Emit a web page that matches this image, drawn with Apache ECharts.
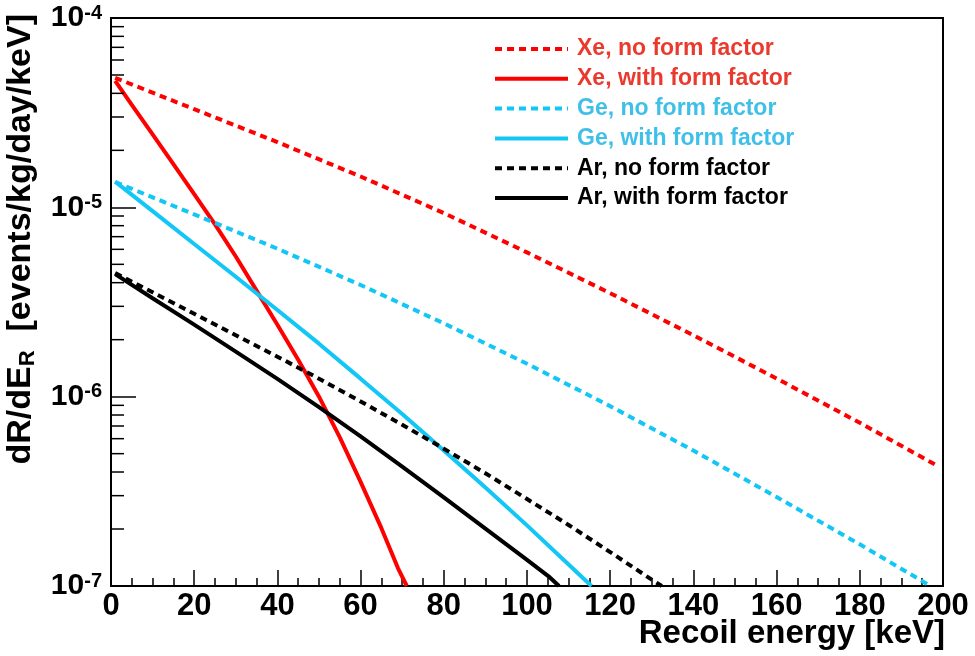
<!DOCTYPE html>
<html>
<head>
<meta charset="utf-8">
<script src="https://cdn.jsdelivr.net/npm/echarts@6/dist/echarts.min.js"></script>
<style>html,body{margin:0;padding:0;background:#fff}#c{width:975px;height:656px}</style>
</head>
<body>
<div id="c"></div>
<script>
// ---- data (recoil energy in keV, rate in events/kg/day/keV) ----
const xeNoFF_E = [1, 20, 40, 60, 80, 100, 120, 140, 160, 180, 198.6];
const xeNoFF_R = [4.83e-5, 3.30e-5, 2.21e-5, 1.455e-5, 9.33e-6, 5.78e-6, 3.52e-6, 2.11e-6, 1.247e-6, 7.28e-7, 4.32e-7];

const xeFF_E = [1, 5, 10, 15, 20, 25, 30, 35, 40, 45, 50, 55, 60, 65, 69, 71.1];
const xeFF_R = [4.656e-5, 3.48e-5, 2.43e-5, 1.69e-5, 1.175e-5, 8.13e-6, 5.50e-6, 3.63e-6, 2.40e-6, 1.567e-6, 1.0e-6, 6.10e-7, 3.55e-7, 2.02e-7, 1.24e-7, 1.0e-7];

const geNoFF_E = [1, 20, 40, 60, 80, 100, 120, 140, 160, 180, 197];
const geNoFF_R = [1.361e-5, 9.18e-6, 6.05e-6, 3.89e-6, 2.44e-6, 1.493e-6, 8.91e-7, 5.19e-7, 2.95e-7, 1.66e-7, 1.0e-7];

const geFF_E = [1, 10, 20, 30, 40, 50, 60, 70, 80, 90, 100, 110, 115.5];
const geFF_R = [1.368e-5, 9.55e-6, 6.40e-6, 4.30e-6, 2.87e-6, 1.905e-6, 1.245e-6, 8.09e-7, 5.20e-7, 3.31e-7, 2.09e-7, 1.30e-7, 1.0e-7];

const arNoFF_E = [1, 10, 20, 30, 40, 50, 60, 70, 80, 90, 100, 110, 120, 130, 132.4];
const arNoFF_R = [4.50e-6, 3.56e-6, 2.74e-6, 2.11e-6, 1.626e-6, 1.245e-6, 9.44e-7, 7.11e-7, 5.31e-7, 3.94e-7, 2.88e-7, 2.10e-7, 1.51e-7, 1.08e-7, 1.0e-7];

const arFF_E = [1, 10, 20, 30, 40, 50, 60, 70, 80, 90, 100, 105.5, 107.7];
const arFF_R = [4.44e-6, 3.31e-6, 2.40e-6, 1.73e-6, 1.242e-6, 8.81e-7, 6.17e-7, 4.27e-7, 2.94e-7, 2.01e-7, 1.374e-7, 1.11e-7, 1.0e-7];

const seriesNames = ['Xe, no form factor', 'Xe, with form factor', 'Ge, no form factor',
                     'Ge, with form factor', 'Ar, no form factor', 'Ar, with form factor'];
const yMinorTicks = [2e-7,3e-7,4e-7,5e-7,6e-7,7e-7,8e-7,9e-7,
                     2e-6,3e-6,4e-6,5e-6,6e-6,7e-6,8e-6,9e-6,
                     2e-5,3e-5,4e-5,5e-5,6e-5,7e-5,8e-5,9e-5];
const xMin = 0, xMax = 200, xInterval = 20;
const yMin = 1e-7, yMax = 1e-4;

// ---- styling ----
const FONT = "'Liberation Sans', Arial, Helvetica, sans-serif";
const RED = '#ff0000', CYAN = '#12c6f5', BLACK = '#000000';
const lineColors = [RED, RED, CYAN, CYAN, BLACK, BLACK];
const textColors = ['#ea3a2d', '#ea3a2d', '#40bfe9', '#40bfe9', '#000000', '#000000'];
const DASH = [7, 5];
const dashed = [true, false, true, false, true, false];
const dataSets = [[xeNoFF_E, xeNoFF_R], [xeFF_E, xeFF_R], [geNoFF_E, geNoFF_R],
                  [geFF_E, geFF_R], [arNoFF_E, arNoFF_R], [arFF_E, arFF_R]];

const lineSeries = dataSets.map((d, i) => ({
  name: seriesNames[i],
  type: 'line',
  data: d[0].map((e, k) => [e, d[1][k]]),
  symbol: 'none',
  showSymbol: false,
  smooth: false,
  silent: true,
  lineStyle: { color: lineColors[i], width: 4, type: dashed[i] ? DASH : 'solid', cap: 'butt' },
  itemStyle: { color: lineColors[i] },
  z: 3
}));

const minorTickSeries = {
  type: 'custom',
  name: 'yminor',
  silent: true,
  data: yMinorTicks.map(v => [xMin, v]),
  renderItem: function (params, api) {
    const p = api.coord([api.value(0), api.value(1)]);
    return { type: 'line', shape: { x1: p[0], y1: p[1], x2: p[0] + 13, y2: p[1] },
             style: { stroke: '#000', lineWidth: 1.5 } };
  },
  z: 4
};

const chart = echarts.init(document.getElementById('c'), null, { renderer: 'canvas' });
chart.setOption({
  animation: false,
  backgroundColor: '#fff',
  grid: { left: 111, right: 32, top: 18, bottom: 70, show: true, borderColor: '#000', borderWidth: 2, containLabel: false },
  xAxis: {
    type: 'value', min: xMin, max: xMax, interval: xInterval,
    axisLine: { show: true, lineStyle: { color: '#000', width: 2 } },
    axisTick: { show: true, inside: true, length: 16, lineStyle: { color: '#000', width: 1.5 } },
    minorTick: { show: true, splitNumber: 4, length: 8, lineStyle: { color: '#000', width: 1.5 } },
    splitLine: { show: false },
    axisLabel: { fontFamily: FONT, fontWeight: 'bold', fontSize: 31, color: '#000', margin: 5, showMaxLabel: true, showMinLabel: true }
  },
  yAxis: {
    type: 'log', logBase: 10, min: yMin, max: yMax,
    axisLine: { show: true, lineStyle: { color: '#000', width: 2 } },
    axisTick: { show: true, inside: true, length: 25, lineStyle: { color: '#000', width: 1.5 } },
    splitLine: { show: false },
    axisLabel: {
      margin: 9,
      formatter: function (v) {
        const e = Math.round(Math.log10(v));
        return '{b|10}{s|' + e + '}';
      },
      rich: {
        b: { fontFamily: FONT, fontWeight: 'bold', fontSize: 30, color: '#000', lineHeight: 30, verticalAlign: 'bottom' },
        s: { fontFamily: FONT, fontWeight: 'bold', fontSize: 20, color: '#000', lineHeight: 20, verticalAlign: 'top' }
      }
    }
  },
  legend: {
    orient: 'vertical', left: 493, top: 37, padding: 0,
    itemWidth: 73, itemHeight: 24, itemGap: 5.8,
    selectedMode: false,
    lineStyle: { width: 4 },
    itemStyle: { opacity: 0 },
    textStyle: { fontFamily: FONT, fontWeight: 'bold', fontSize: 23, lineHeight: 24, padding: [0, 0, 0, 4] },
    data: seriesNames.map((n, i) => ({ name: n, textStyle: { color: textColors[i] } }))
  },
  graphic: [
    {
      type: 'text', x: 21, y: 14, rotation: Math.PI / 2, silent: true,
      style: {
        text: '{m|dR/dE}{sub|R}{m|  [events/kg/day/keV]}',
        align: 'right', verticalAlign: 'middle', fill: '#000',
        rich: {
          m: { fontFamily: FONT, fontWeight: 'bold', fontSize: 34, fill: '#000', lineHeight: 36 },
          sub: { fontFamily: FONT, fontWeight: 'bold', fontSize: 22, fill: '#000', padding: [14, 0, 0, 0] }
        }
      }
    },
    {
      type: 'text', x: 945, y: 634, silent: true,
      style: { text: 'Recoil energy [keV]', align: 'right', verticalAlign: 'middle', fill: '#000',
               fontFamily: FONT, fontWeight: 'bold', fontSize: 33 }
    }
  ],
  series: lineSeries.concat([minorTickSeries])
});
</script>
</body>
</html>
